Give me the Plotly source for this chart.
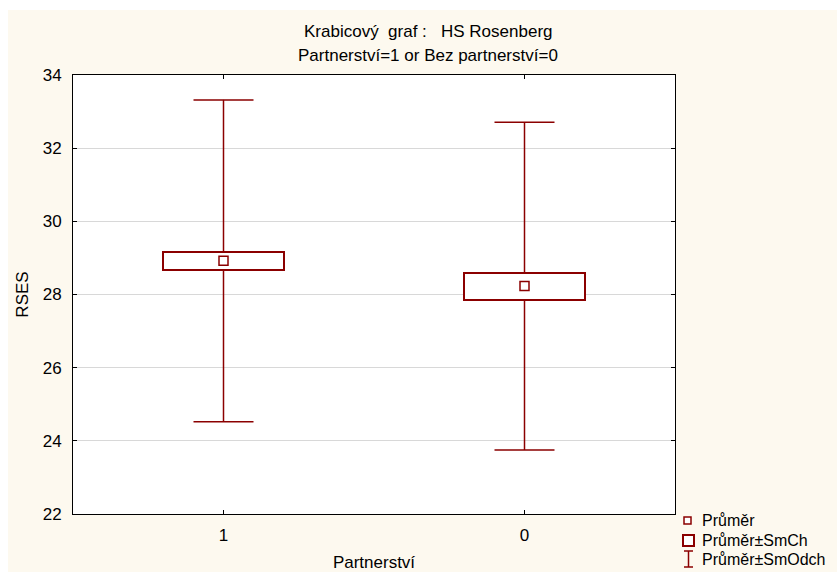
import plotly.graph_objects as go

# ---- data ----
categories = ["1", "0"]
means = [28.92, 28.23]
se = [0.25, 0.37]
sd = [4.40, 4.48]
y_ticks = [22, 24, 26, 28, 30, 32, 34]
title_lines = ["Krabicový\u00a0 graf :\u00a0\u00a0 HS Rosenberg", "Partnerství=1 or Bez partnerství=0"]
legend_labels = ["Průměr", "Průměr±SmCh", "Průměr±SmOdch"]

RED = "#8B0000"
CREAM = "#FDF9EF"
FONT = "Liberation Sans, Arial, sans-serif"

W, H = 837, 572
L, R, T, B = 73, 675, 75, 514  # plot area in px


def px(x):
    return (x - L) / (R - L)


def py(y):
    return (B - y) / (B - T)


xpos = list(range(len(categories)))
lo_box = [m - s for m, s in zip(means, se)]
hi_box = [m + s for m, s in zip(means, se)]
top = [m + d for m, d in zip(means, sd)]
bot = [m - d for m, d in zip(means, sd)]

wx, wy = [], []
for i in xpos:
    wx += [i, i, None, i, i, None]
    wy += [hi_box[i], top[i], None, lo_box[i], bot[i], None]

fig = go.Figure()

# box (mean ± SE)
fig.add_trace(go.Bar(
    x=xpos, base=lo_box, y=[2 * s for s in se], width=0.4,
    marker=dict(color="white", line=dict(color=RED, width=2)),
    showlegend=False, hoverinfo="skip"))

# whisker stems (mean ± SD, outside the box)
fig.add_trace(go.Scatter(
    x=wx, y=wy, mode="lines", line=dict(color=RED, width=1.5),
    showlegend=False, hoverinfo="skip"))

# whisker caps
fig.add_trace(go.Scatter(
    x=xpos + xpos, y=top + bot, mode="markers", marker=dict(size=1, opacity=0),
    error_y=dict(type="data", array=[0] * (2 * len(xpos)), color=RED, thickness=1.5, width=30),
    showlegend=False, hoverinfo="skip"))

# mean markers
fig.add_trace(go.Scatter(
    x=xpos, y=means, mode="markers",
    marker=dict(symbol="square-open", size=9, color=RED, line=dict(width=1.5)),
    showlegend=False))

shapes = [
    # white strips outside cream background
    dict(type="rect", xref="paper", yref="paper", x0=px(0), x1=px(W), y0=py(10), y1=py(0),
         fillcolor="white", line=dict(width=0), layer="below"),
    dict(type="rect", xref="paper", yref="paper", x0=px(0), x1=px(8), y0=py(H), y1=py(0),
         fillcolor="white", line=dict(width=0), layer="below"),
    # legend glyphs
    dict(type="rect", xref="paper", yref="paper", x0=px(684), x1=px(691), y0=py(524), y1=py(517),
         line=dict(color=RED, width=1.5), fillcolor="white"),
    dict(type="rect", xref="paper", yref="paper", x0=px(683), x1=px(694), y0=py(546), y1=py(535),
         line=dict(color=RED, width=2), fillcolor="white"),
    dict(type="line", xref="paper", yref="paper", x0=px(688.5), x1=px(688.5), y0=py(567), y1=py(551),
         line=dict(color=RED, width=1.5)),
    dict(type="line", xref="paper", yref="paper", x0=px(684), x1=px(693), y0=py(551), y1=py(551),
         line=dict(color=RED, width=1.5)),
    dict(type="line", xref="paper", yref="paper", x0=px(684), x1=px(693), y0=py(567), y1=py(567),
         line=dict(color=RED, width=1.5)),
]

annotations = []
for txt, yy in zip(title_lines, [32, 55]):
    annotations.append(dict(text=txt, xref="paper", yref="paper", x=px(428), y=py(yy),
                            xanchor="center", yanchor="middle", showarrow=False,
                            font=dict(size=17, color="black", family=FONT)))
for txt, yy in zip(legend_labels, [520, 540, 559]):
    annotations.append(dict(text=txt, xref="paper", yref="paper", x=px(700), y=py(yy),
                            xanchor="left", yanchor="middle", showarrow=False,
                            font=dict(size=16, color="black", family=FONT)))

fig.update_layout(
    width=W, height=H,
    margin=dict(l=L, r=W - R, t=T, b=H - B, pad=0, autoexpand=False),
    paper_bgcolor=CREAM, plot_bgcolor="white",
    font=dict(family=FONT, size=17, color="black"),
    shapes=shapes, annotations=annotations,
    showlegend=False, bargap=0,
    xaxis=dict(range=[-0.5, len(categories) - 0.5], tickvals=xpos, ticktext=categories,
               automargin=False,
               showgrid=False, zeroline=False, showline=True, linecolor="black", linewidth=1,
               mirror="ticks", ticks="inside", ticklen=4, tickcolor="black",
               ticklabelstandoff=6,
               title=dict(text="Partnerství", standoff=14, font=dict(size=17)),
               tickfont=dict(size=17)),
    yaxis=dict(range=[22, 34], tickvals=y_ticks, automargin=False,
               showgrid=True, gridcolor="#D8D8D8", gridwidth=1, zeroline=False,
               showline=True, linecolor="black", linewidth=1,
               mirror="ticks", ticks="inside", ticklen=4, tickcolor="black",
               ticklabelstandoff=7,
               title=dict(text="RSES", standoff=9, font=dict(size=17)),
               tickfont=dict(size=17)),
)

fig.write_html("out.html")
